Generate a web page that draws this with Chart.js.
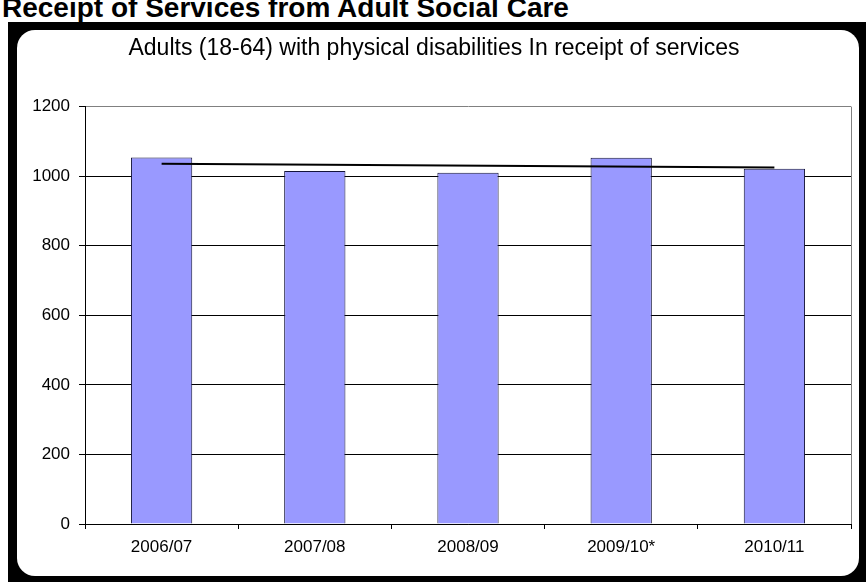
<!DOCTYPE html>
<html>
<head>
<meta charset="utf-8">
<script src="https://cdn.jsdelivr.net/npm/chart.js@4.4.0/dist/chart.umd.min.js"></script>
<style>
    body { margin: 0; width: 866px; height: 582px; overflow: hidden; position: relative; background: #fff; font-family: "Liberation Sans", Arial, sans-serif; }
    #heading { position: absolute; left: 2px; top: -6px; font-size: 28px; line-height: 28px; font-weight: bold; color: #000; white-space: nowrap; }
    #frame { position: absolute; left: 8px; top: 22px; width: 858px; height: 560px; background: #000; }
    #box { position: absolute; left: 9px; top: 8px; width: 842px; height: 546px; background: #fff; border-radius: 18px; overflow: hidden; }
    #chart { position: absolute; left: 0; top: 0; }
</style>
</head>
<body>
<div id="heading">Receipt of Services from Adult Social Care</div>
<div id="frame">
    <div id="box">
        <canvas id="chart" width="842" height="546"></canvas>
    </div>
</div>
<script>
    // Data
    var years = ["2006/07", "2007/08", "2008/09", "2009/10*", "2010/11"];
    var clients = [1054, 1015, 1010, 1053, 1021];
    // trend line: only its two ends are read, the library joins them
    var trend = [1036, null, null, null, 1025];
    var yTicks = [0, 200, 400, 600, 800, 1000, 1200];

    // Grey right edge of the plot area
    var plotEdge = {
        id: "plotEdge",
        beforeDatasetsDraw: function (chart) {
            var a = chart.chartArea, c = chart.ctx;
            c.save();
            c.strokeStyle = "#808080";
            c.lineWidth = 1;
            c.beginPath();
            c.moveTo(a.right + 0.5, a.top);
            c.lineTo(a.right + 0.5, a.bottom);
            c.stroke();
            c.restore();
        }
    };

    var font = "'Liberation Sans', Arial, sans-serif";

    var ctx = document.getElementById("chart").getContext("2d");
    var myChart = new Chart(ctx, {
        data: {
            labels: years,
            datasets: [{
                    type: "line",
                    data: trend,
                    spanGaps: true,
                    borderColor: "#000000",
                    borderWidth: 2,
                    pointRadius: 0,
                    fill: false,
                    order: 0
                },
                {
                    type: "bar",
                    data: clients,
                    backgroundColor: "#9999ff",
                    borderColor: "#14143a",
                    borderWidth: 1,
                    barPercentage: 0.4,
                    categoryPercentage: 1,
                    order: 1
                }
            ]
        },
        options: {
            responsive: false,
            animation: false,
            devicePixelRatio: 1,
            layout: {padding: {left: 0, right: 8, top: 0, bottom: 0}},
            plugins: {
                legend: {display: false},
                tooltip: {enabled: false},
                title: {
                    display: true,
                    text: "Adults (18-64) with physical disabilities In receipt of services",
                    color: "#000",
                    font: {family: font, size: 23, weight: "normal"},
                    padding: {top: 5, bottom: 44}
                }
            },
            scales: {
                x: {
                    grid: {offset: true, drawOnChartArea: false, tickLength: 5, color: "#000"},
                    border: {color: "#000", width: 1},
                    ticks: {color: "#000", padding: 8, font: {family: font, size: 17}},
                    afterFit: function (scale) { scale.height = 52; }
                },
                y: {
                    min: 0,
                    max: 1200,
                    afterBuildTicks: function (scale) {
                        scale.ticks = yTicks.map(function (v) { return {value: v}; });
                    },
                    grid: {
                        tickLength: 6,
                        tickColor: "#000",
                        color: function (c) { return c.tick && c.tick.value === 1200 ? "#808080" : "#000"; }
                    },
                    border: {color: "#000", width: 1},
                    ticks: {
                        color: "#000",
                        padding: 9,
                        font: {family: font, size: 17},
                        callback: function (v) { return String(v); }
                    },
                    afterFit: function (scale) { scale.width = 68; }
                }
            }
        },
        plugins: [plotEdge]
    });
</script>
</body>
</html>
